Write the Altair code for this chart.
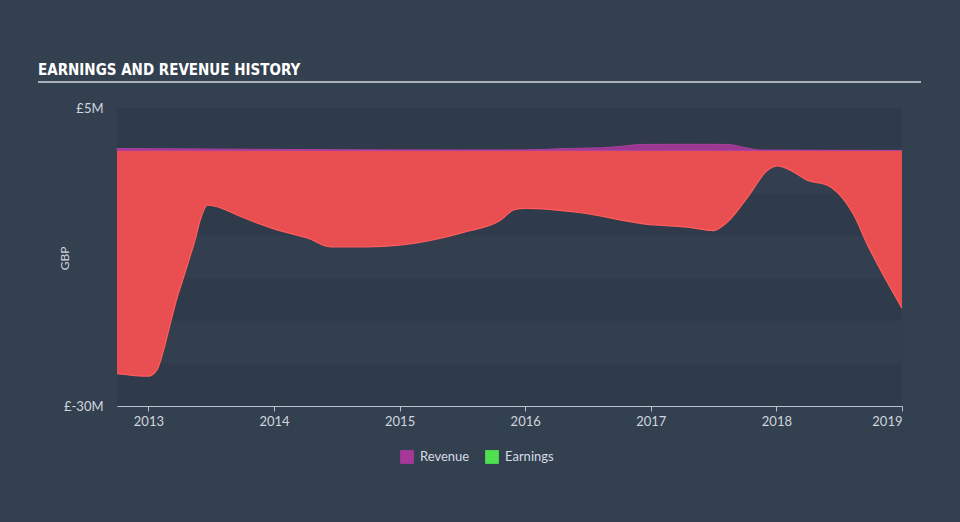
import altair as alt
import pandas as pd

# ---- data ----
earn_year = [2012.75, 2013.0, 2013.07, 2013.12, 2013.175, 2013.23, 2013.28, 2013.33, 2013.37,
             2013.41, 2013.47, 2013.57, 2013.71, 2014.0, 2014.27, 2014.45, 2014.74, 2015.0,
             2015.51, 2015.8, 2015.92, 2016.0, 2016.44, 2016.94, 2017.29, 2017.5, 2017.61,
             2017.77, 2017.93, 2018.01, 2018.11, 2018.25, 2018.41, 2018.51, 2018.61, 2018.72, 2019.0]
earn_val = [-26.2, -26.5, -25.7, -23.5, -20.3, -17.2, -14.9, -12.5, -10.6,
            -8.3, -6.4, -6.7, -7.6, -9.2, -10.3, -11.3, -11.3, -11.1,
            -9.6, -8.2, -6.9, -6.8, -7.3, -8.6, -9.0, -9.4, -8.4,
            -5.5, -2.3, -1.8, -2.3, -3.5, -4.1, -5.3, -7.4, -10.9, -18.5]

rev_year = [2012.75, 2013.5, 2014.5, 2015.5, 2016.0, 2016.34, 2016.6, 2016.8, 2016.92,
            2017.3, 2017.61, 2017.75, 2017.87, 2018.5, 2019.0]
rev_val = [0.25, 0.18, 0.1, 0.07, 0.08, 0.25, 0.32, 0.55, 0.72,
           0.74, 0.72, 0.35, 0.06, 0.03, 0.02]

band_top = [5, 0, -5, -10, -15, -20, -25]
band_bottom = [0, -5, -10, -15, -20, -25, -30]
band_shade = ["a", "b", "a", "b", "a", "b", "a"]

series_names = ["Revenue", "Earnings"]
series_colors = ["#a8379a", "#4fe04f"]
x_ticks = [2013, 2014, 2015, 2016, 2017, 2018, 2019]
y_ticks = [5, -30]
title_text = ["EARNINGS AND REVENUE HISTORY"]

earn = pd.DataFrame({"year": earn_year, "value": earn_val})
rev = pd.DataFrame({"year": rev_year, "value": rev_val, "series": "Revenue"})
bands = pd.DataFrame({"top": band_top, "bottom": band_bottom, "shade": band_shade})
titles = pd.DataFrame({"t": title_text})

xscale = alt.Scale(domain=[2012.75, 2019.0], nice=False, zero=False)
yscale = alt.Scale(domain=[-30, 5], nice=False)

band_layer = alt.Chart(bands).mark_rect().encode(
    x=alt.value(0), x2=alt.value(785),
    y=alt.Y("top:Q", scale=yscale,
            axis=alt.Axis(values=y_ticks, labelExpr="'£' + datum.value + 'M'",
                          title="GBP", grid=False, domain=False, ticks=False,
                          labelPadding=14, titleX=-46, titleY=150)),
    y2="bottom:Q",
    color=alt.Color("shade:N", scale=alt.Scale(domain=["a", "b"], range=["#2f3b4a", "#333f4e"]),
                    legend=None),
)

earn_area = alt.Chart(earn).mark_area(interpolate="monotone", color="#e94f51").encode(
    x=alt.X("year:Q", scale=xscale,
            axis=alt.Axis(values=x_ticks, format="d", title=None, grid=False,
                          labelFlush=True, tickSize=5, labelPadding=4)),
    y=alt.Y("value:Q", scale=yscale),
)
earn_line = alt.Chart(earn).mark_line(interpolate="monotone", color="#ff5d5b", strokeWidth=1.2).encode(
    x=alt.X("year:Q", scale=xscale),
    y=alt.Y("value:Q", scale=yscale),
)

rev_area = alt.Chart(rev).mark_area(interpolate="monotone", opacity=0.9,
                                    stroke="#b842a8", strokeWidth=1).encode(
    x=alt.X("year:Q", scale=xscale),
    y=alt.Y("value:Q", scale=yscale),
    color=alt.Color("series:N", scale=alt.Scale(domain=series_names, range=series_colors),
                    legend=alt.Legend(title=None, orient="none", legendX=283, legendY=342,
                                      direction="horizontal", symbolType="square",
                                      symbolSize=190, symbolStrokeWidth=0, symbolOpacity=1,
                                      labelColor="#d5dbe2", labelFontSize=13,
                                      labelFont="Lato", columnPadding=15, labelOffset=6)),
)

underline = alt.Chart(titles).mark_rule(color="#a9b0b9", strokeWidth=2).encode(
    x=alt.value(-79), x2=alt.value(804), y=alt.value(-26)
)
title_mark = alt.Chart(titles).mark_text(
    align="left", baseline="alphabetic", fontSize=15, fontWeight="bold",
    font="'DejaVu Sans Condensed', 'Roboto Condensed', 'Liberation Sans Narrow', 'Roboto', sans-serif",
    color="#ffffff"
).encode(x=alt.value(-79), y=alt.value(-33), text="t:N")

chart = alt.layer(band_layer, earn_area, earn_line, rev_area, underline, title_mark).resolve_scale(
    color="independent"
).properties(
    width=785, height=298,
    autosize=alt.AutoSizeParams(type="none"),
    padding={"left": 117, "top": 108, "right": 58, "bottom": 116},
    background="#334050",
).configure_view(stroke=None).configure_axis(
    labelColor="#d0d6dd", labelFont="Lato", labelFontSize=13,
    titleColor="#d0d6dd", titleFont="Lato", titleFontSize=12, titleFontWeight="normal",
    domainColor="#b8c3cf", tickColor="#b8c3cf",
)

chart.save("out.html", embed_options={"renderer": "svg", "actions": False})
